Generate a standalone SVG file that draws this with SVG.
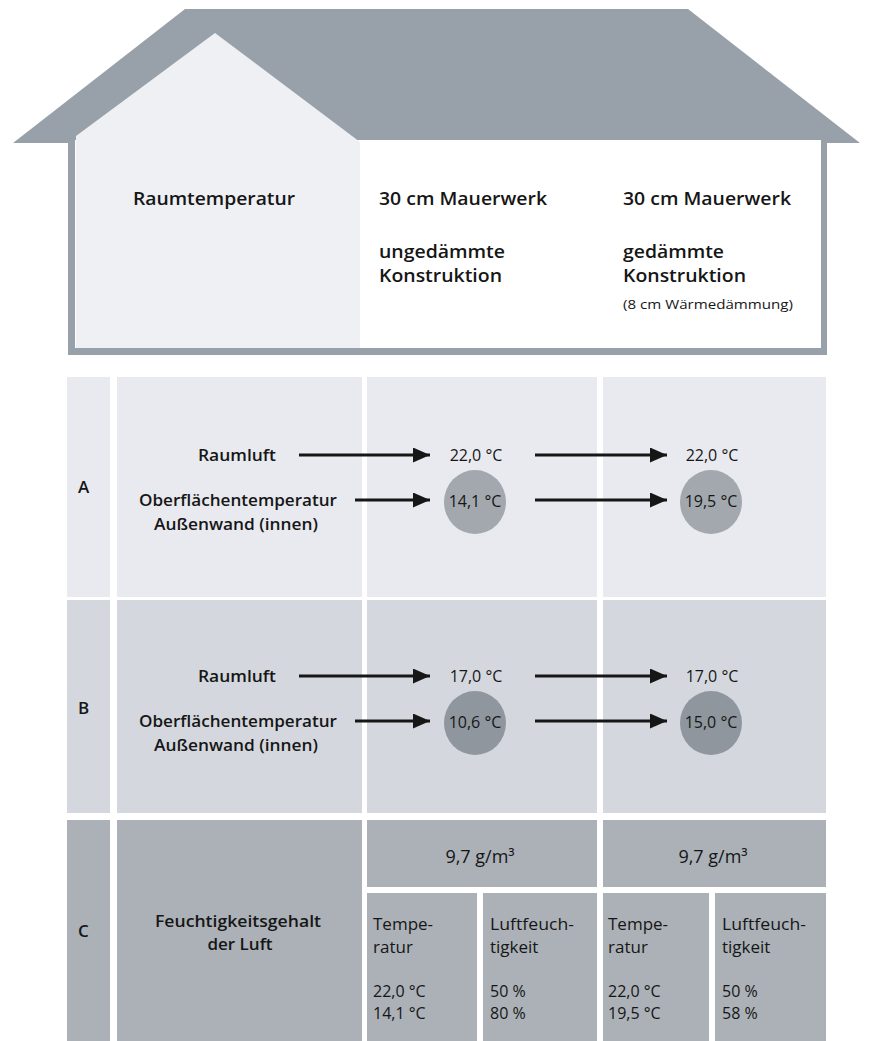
<svg xmlns="http://www.w3.org/2000/svg" width="869" height="1041" viewBox="0 0 869 1041">
<defs>
<style>
text{font-family:"Open Sans","Noto Sans","Liberation Sans",sans-serif;fill:#161616}
.h{font-size:18px;font-weight:600}
.hs{font-size:13px;font-weight:400}
.l{font-size:17px;font-weight:600}
.v{font-size:16px;font-weight:400}
.c{font-size:17px;font-weight:400}
.g{font-size:18px;font-weight:400}
.m{text-anchor:middle}
.pa{fill:#e8eaef}
.pb{fill:#d4d8de}
.pc{fill:#abb1b7}
.ca{fill:#a3a8ae}
.cb{fill:#8f969d}
.ar{stroke:#161616;stroke-width:3;fill:none;marker-end:url(#ah)}
</style>
<marker id="ah" viewBox="0 0 17 15" refX="17" refY="7.5" markerWidth="17" markerHeight="15" markerUnits="userSpaceOnUse" orient="auto">
<path d="M0,0 L17,7.5 L0,15 z" fill="#161616"/>
</marker>
</defs>
<rect width="869" height="1041" fill="#ffffff"/>

<g id="house">
<polygon points="185,9 688,9 860,143 13,143" fill="#98a1a9"/>
<rect x="68" y="140" width="759" height="215" fill="#98a1a9"/>
<rect x="75" y="140" width="746" height="208" fill="#ffffff"/>
<polygon points="215,33 360,142 360,348 76,348 76,136" fill="#eef0f4"/>
</g>

<g id="header">
<text class="h" x="133" y="205" textLength="162" lengthAdjust="spacingAndGlyphs">Raumtemperatur</text>
<text class="h" x="379" y="205" textLength="168" lengthAdjust="spacingAndGlyphs">30 cm Mauerwerk</text>
<text class="h" x="379" y="258" textLength="126" lengthAdjust="spacingAndGlyphs">ungedämmte</text>
<text class="h" x="379" y="282" textLength="123" lengthAdjust="spacingAndGlyphs">Konstruktion</text>
<text class="h" x="623" y="205" textLength="168" lengthAdjust="spacingAndGlyphs">30 cm Mauerwerk</text>
<text class="h" x="623" y="258" textLength="101" lengthAdjust="spacingAndGlyphs">gedämmte</text>
<text class="h" x="623" y="282" textLength="123" lengthAdjust="spacingAndGlyphs">Konstruktion</text>
<text class="hs" x="623" y="309" textLength="170" lengthAdjust="spacingAndGlyphs">(8 cm Wärmedämmung)</text>
</g>

<g id="panels">
<rect class="pa" x="67" y="377" width="43" height="220"/>
<rect class="pa" x="117" y="377" width="245" height="220"/>
<rect class="pa" x="367" y="377" width="230" height="220"/>
<rect class="pa" x="603" y="377" width="223" height="220"/>
<rect class="pb" x="67" y="600" width="43" height="213"/>
<rect class="pb" x="117" y="600" width="245" height="213"/>
<rect class="pb" x="367" y="600" width="230" height="213"/>
<rect class="pb" x="603" y="600" width="223" height="213"/>
<rect class="pc" x="67" y="820" width="43" height="221"/>
<rect class="pc" x="117" y="820" width="245" height="221"/>
<rect class="pc" x="367" y="820" width="230" height="67"/>
<rect class="pc" x="603" y="820" width="223" height="67"/>
<rect class="pc" x="367" y="893" width="110" height="148"/>
<rect class="pc" x="483" y="893" width="114" height="148"/>
<rect class="pc" x="603" y="893" width="106" height="148"/>
<rect class="pc" x="715" y="893" width="111" height="148"/>
</g>

<g id="rowA">
<text class="l" x="78" y="493">A</text>
<text class="l m" x="237" y="461" textLength="78" lengthAdjust="spacingAndGlyphs">Raumluft</text>
<text class="l m" x="238" y="506" textLength="198" lengthAdjust="spacingAndGlyphs">Oberflächentemperatur</text>
<text class="l m" x="236" y="530" textLength="164" lengthAdjust="spacingAndGlyphs">Außenwand (innen)</text>
<text class="v m" x="476" y="461">22,0 °C</text>
<text class="v m" x="712" y="461">22,0 °C</text>
<ellipse class="ca" cx="475" cy="502" rx="31" ry="32"/>
<ellipse class="ca" cx="711" cy="502" rx="31" ry="32"/>
<text class="v m" x="475" y="507">14,1 °C</text>
<text class="v m" x="711" y="507">19,5 °C</text>
</g>

<g id="rowB">
<text class="l" x="78" y="714">B</text>
<text class="l m" x="237" y="682" textLength="78" lengthAdjust="spacingAndGlyphs">Raumluft</text>
<text class="l m" x="238" y="727" textLength="198" lengthAdjust="spacingAndGlyphs">Oberflächentemperatur</text>
<text class="l m" x="236" y="751" textLength="164" lengthAdjust="spacingAndGlyphs">Außenwand (innen)</text>
<text class="v m" x="476" y="682">17,0 °C</text>
<text class="v m" x="712" y="682">17,0 °C</text>
<ellipse class="cb" cx="475" cy="723" rx="31" ry="32"/>
<ellipse class="cb" cx="711" cy="723" rx="31" ry="32"/>
<text class="v m" x="475" y="728">10,6 °C</text>
<text class="v m" x="711" y="728">15,0 °C</text>
</g>

<g id="rowC">
<text class="l" x="78" y="937">C</text>
<text class="l m" x="238" y="927" textLength="166" lengthAdjust="spacingAndGlyphs">Feuchtigkeitsgehalt</text>
<text class="l m" x="240" y="950">der Luft</text>
<text class="g m" x="480" y="863">9,7 g/m³</text>
<text class="g m" x="713" y="863">9,7 g/m³</text>
<text class="c" x="373" y="930">Tempe-</text>
<text class="c" x="373" y="953">ratur</text>
<text class="v" x="373" y="997">22,0 °C</text>
<text class="v" x="373" y="1019">14,1 °C</text>
<text class="c" x="490" y="930" textLength="84" lengthAdjust="spacingAndGlyphs">Luftfeuch-</text>
<text class="c" x="490" y="953">tigkeit</text>
<text class="v" x="490" y="997">50 %</text>
<text class="v" x="490" y="1019">80 %</text>
<text class="c" x="608" y="930">Tempe-</text>
<text class="c" x="608" y="953">ratur</text>
<text class="v" x="608" y="997">22,0 °C</text>
<text class="v" x="608" y="1019">19,5 °C</text>
<text class="c" x="722" y="930" textLength="84" lengthAdjust="spacingAndGlyphs">Luftfeuch-</text>
<text class="c" x="722" y="953">tigkeit</text>
<text class="v" x="722" y="997">50 %</text>
<text class="v" x="722" y="1019">58 %</text>
</g>

<g id="connectors">
<line class="ar" x1="299" y1="455" x2="430" y2="455"/>
<line class="ar" x1="355" y1="500" x2="430" y2="500"/>
<line class="ar" x1="535" y1="455" x2="667" y2="455"/>
<line class="ar" x1="535" y1="500" x2="667" y2="500"/>
<line class="ar" x1="299" y1="676" x2="430" y2="676"/>
<line class="ar" x1="355" y1="721" x2="430" y2="721"/>
<line class="ar" x1="535" y1="676" x2="667" y2="676"/>
<line class="ar" x1="535" y1="721" x2="667" y2="721"/>
</g>
</svg>
